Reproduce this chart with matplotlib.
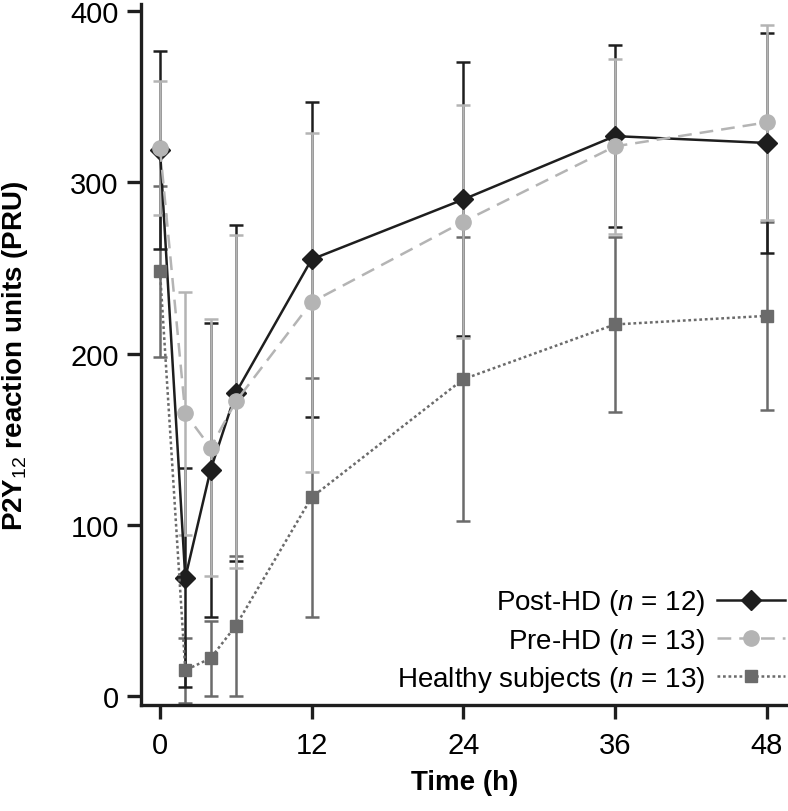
import numpy as np
import matplotlib
matplotlib.use('Agg')
import matplotlib.pyplot as plt

# --- Data (mean +/- SD) ---
time_h = [0, 2, 4, 6, 12, 24, 36, 48]

post_hd = [319, 69, 132, 177, 255, 290, 327, 323]
post_hd_sd = [58, 64, 86, 98, 92, 80, 53, 64]

pre_hd = [320, 165, 145, 172, 230, 277, 321, 335]
pre_hd_sd = [39, 71, 75, 97, 99, 68, 51, 57]

healthy = [248, 15, 22, 41, 116, 185, 217, 222]
healthy_sd = [50, 19, 22, 41, 70, 83, 51, 55]

labels = [r'Post-HD ($n$ = 12)', r'Pre-HD ($n$ = 13)', r'Healthy subjects ($n$ = 13)']
x_ticks = [0, 12, 24, 36, 48]
y_ticks = [0, 100, 200, 300, 400]

plt.rcParams['font.family'] = ['Liberation Sans', 'DejaVu Sans']
plt.rcParams['mathtext.fontset'] = 'custom'
plt.rcParams['mathtext.rm'] = 'Liberation Sans'
plt.rcParams['mathtext.it'] = 'Liberation Sans:italic'
plt.rcParams['mathtext.bf'] = 'Liberation Sans:bold'


def main():
    fig = plt.figure(figsize=(7.88, 8.12), dpi=100)
    ax = fig.add_axes([0.179, 0.1305, 0.821, 0.863])

    c_post, c_pre, c_healthy = '#1e1e1e', '#b4b4b4', '#6b6b6b'
    lw = 1.8

    # error bars first, pre-HD on top of the others
    for y, e, c, z in [(healthy, healthy_sd, c_healthy, 1),
                       (post_hd, post_hd_sd, c_post, 2),
                       (pre_hd, pre_hd_sd, c_pre, 3)]:
        ax.errorbar(time_h, y, yerr=e, fmt='none', ecolor=c, elinewidth=lw,
                    capsize=4.8, capthick=lw, zorder=z)

    h1, = ax.plot(time_h, post_hd, color=c_post, lw=lw, marker='D', markersize=10.5,
                  zorder=5, label=labels[0])
    h2, = ax.plot(time_h, pre_hd, color=c_pre, lw=lw, ls=(0, (5.5, 3.2)), marker='o',
                  markersize=11, zorder=6, label=labels[1])
    h3, = ax.plot(time_h, healthy, color=c_healthy, lw=lw, ls=(0, (1.1, 1.1)),
                  marker='s', markersize=9, zorder=7, label=labels[2])

    ax.set_xlim(-1.5, 49.7)
    ax.set_ylim(-5.3, 404)
    ax.set_xticks(x_ticks)
    ax.set_yticks(y_ticks)

    for s in ['top', 'right']:
        ax.spines[s].set_visible(False)
    for s in ['left', 'bottom']:
        ax.spines[s].set_linewidth(2.4)
        ax.spines[s].set_color('#1e1e1e')
    ax.tick_params(direction='out', length=10, width=2.4, color='#1e1e1e',
                   labelsize=21)
    ax.tick_params(axis='y', pad=6)
    ax.tick_params(axis='x', pad=9)

    ax.set_xlabel('Time (h)', fontsize=20, fontweight='bold', labelpad=7)
    ax.set_ylabel(r'P2Y$_{12}$ reaction units (PRU)', fontsize=20,
                  fontweight='bold', labelpad=29)

    ax.legend(handles=[h1, h2, h3], loc='lower right', bbox_to_anchor=(1.012, 0.0),
              frameon=False, markerfirst=False, fontsize=20, handlelength=2.45,
              labelspacing=0.3, handletextpad=0.4, borderaxespad=0.0)

    fig.savefig('out.png', dpi=100)


if __name__ == '__main__':
    main()
